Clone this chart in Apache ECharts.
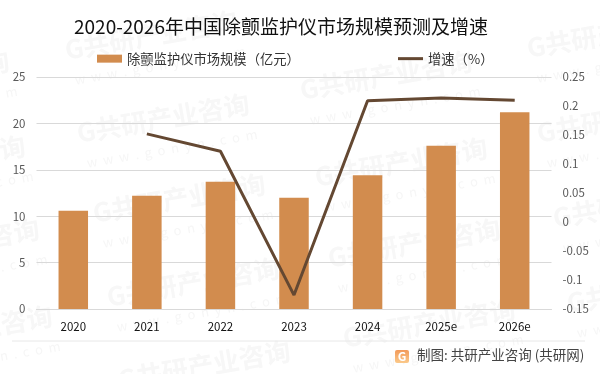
<!DOCTYPE html>
<html>
<head>
<meta charset="utf-8">
<style>html,body{margin:0;padding:0;background:#fff}#main{width:600px;height:374px}</style>
<script src="https://cdn.jsdelivr.net/npm/echarts@6/dist/echarts.min.js"></script>
</head>
<body>
<div id="main"></div>
<script>
var categories = ['2020', '2021', '2022', '2023', '2024', '2025e', '2026e'];
var marketSize = [10.6, 12.2, 13.7, 12.0, 14.4, 17.6, 21.2];
var growth = [null, 0.152, 0.122, -0.126, 0.209, 0.214, 0.21];
// where each watermark starts (left end, middle of the text)
var stampSpots = [[65, 50], [77, 133], [-163, 90], [-147, 175], [300, 90], [527, 48], [537, 133], [315, 177],
    [93, 213], [-133, 258], [107, 297], [-120, 345], [328, 258], [553, 218], [567, 303], [343, 338], [118, 380]];

var font = '"Noto Sans CJK SC", "Noto Sans", sans-serif';
var barName = '除颤监护仪市场规模（亿元）';
var lineName = '增速（%）';
var myChart = echarts.init(document.getElementById('main'));

// watermarks, behind the chart
var graphics = [];
stampSpots.forEach(function (p) {
    graphics.push({
        type: 'text', x: p[0], y: p[1], rotation: 0.17, z: -10,
        style: {text: 'G共研产业咨询', font: 'bold 26px ' + font, fill: '#f7f7f7', verticalAlign: 'middle'}
    });
    graphics.push({
        type: 'text', x: p[0] + 10, y: p[1] + 30, rotation: 0.17, z: -10,
        style: {text: 'w  w  w  .  g  o  n  y  n  .  c  o  m', font: '13px ' + font, fill: '#f6f6f6', verticalAlign: 'middle'}
    });
});
// footer
graphics.push({type: 'line', shape: {x1: 12, y1: 341, x2: 585, y2: 341}, style: {stroke: '#e8e8e8', lineWidth: 1}});
graphics.push({
    type: 'rect', shape: {x: 395, y: 350, width: 14, height: 13, r: 2},
    style: {fill: new echarts.graphic.LinearGradient(0, 0, 0, 1, [{offset: 0, color: '#f29a5a'}, {offset: 1, color: '#fbc98a'}])}
});
graphics.push({type: 'text', x: 402, y: 356.5, style: {text: 'G', font: 'bold 12px ' + font, fill: '#fff', align: 'center', verticalAlign: 'middle'}});
graphics.push({type: 'text', x: 417, y: 355, style: {text: '制图: 共研产业咨询 (共研网)', font: '13.5px ' + font, fill: '#444', verticalAlign: 'middle'}});

var legendText = {fontFamily: font, fontSize: 13.3, color: '#333'};

var option = {
    backgroundColor: '#fff',
    animation: false,
    title: {
        text: '2020-2026年中国除颤监护仪市场规模预测及增速',
        left: 69, top: 12,
        textStyle: {fontFamily: font, fontSize: 19, fontWeight: 'normal', color: '#111'}
    },
    legend: [
        {left: 92, top: 47, itemWidth: 25, itemHeight: 8, icon: 'rect', textStyle: legendText, data: [barName]},
        {left: 393, top: 47, itemWidth: 25, itemHeight: 3, icon: 'rect', textStyle: legendText, data: [lineName]}
    ],
    grid: {left: 36.5, right: 48.5, top: 77, bottom: 65},
    xAxis: {
        type: 'category',
        data: categories,
        axisTick: {show: false},
        axisLine: {lineStyle: {color: '#d9d9d9'}},
        axisLabel: {interval: 0, margin: 12, fontSize: 11.5, color: '#111', fontFamily: font}
    },
    yAxis: [
        {
            type: 'value', min: 0, max: 25, interval: 5,
            axisLabel: {fontSize: 11.5, color: '#595959', margin: 11, fontFamily: font},
            splitLine: {lineStyle: {color: '#d9d9d9'}},
            axisLine: {show: false}, axisTick: {show: false}
        },
        {
            type: 'value', min: -0.15, max: 0.25, interval: 0.05,
            axisLabel: {
                fontSize: 11.5, color: '#595959', margin: 11, fontFamily: font,
                formatter: function (v) { return String(+v.toFixed(2)); }
            },
            splitLine: {show: false},
            axisLine: {show: false}, axisTick: {show: false}
        }
    ],
    series: [
        {
            name: barName,
            type: 'bar',
            data: marketSize,
            barWidth: 29.5,
            itemStyle: {color: '#d28c4e'}
        },
        {
            name: lineName,
            type: 'line',
            yAxisIndex: 1,
            data: growth,
            symbol: 'none',
            lineStyle: {color: '#644832', width: 3},
            itemStyle: {color: '#644832'}
        }
    ],
    graphic: graphics
};
myChart.setOption(option);
</script>
</body>
</html>
